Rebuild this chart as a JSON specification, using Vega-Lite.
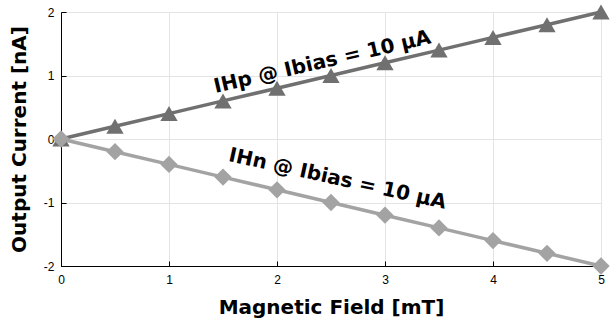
{
  "$schema": "https://vega.github.io/schema/vega-lite/v6.json",
  "autosize": "none",
  "width": 540,
  "height": 254,
  "padding": {"left": 61, "top": 12, "right": 9, "bottom": 62},
  "background": "white",
  "config": {
    "view": {"stroke": "black", "strokeWidth": 1},
    "axis": {
      "labelFont": "Liberation Sans",
      "labelFontSize": 12,
      "labelColor": "black",
      "titleFont": "DejaVu Sans",
      "titleFontWeight": "bold",
      "titleFontSize": 20,
      "titleColor": "black",
      "domainColor": "black",
      "tickColor": "black",
      "tickWidth": 1,
      "gridColor": "#e4e4e4",
      "tickSize": -5
    }
  },
  "datasets": {
    "curves": [
      {"field": 0, "current": 0, "series": "IHp"},
      {"field": 0.5, "current": 0.2, "series": "IHp"},
      {"field": 1, "current": 0.4, "series": "IHp"},
      {"field": 1.5, "current": 0.6, "series": "IHp"},
      {"field": 2, "current": 0.8, "series": "IHp"},
      {"field": 2.5, "current": 1.0, "series": "IHp"},
      {"field": 3, "current": 1.2, "series": "IHp"},
      {"field": 3.5, "current": 1.4, "series": "IHp"},
      {"field": 4, "current": 1.6, "series": "IHp"},
      {"field": 4.5, "current": 1.8, "series": "IHp"},
      {"field": 5, "current": 2.0, "series": "IHp"},
      {"field": 0, "current": 0, "series": "IHn"},
      {"field": 0.5, "current": -0.2, "series": "IHn"},
      {"field": 1, "current": -0.4, "series": "IHn"},
      {"field": 1.5, "current": -0.6, "series": "IHn"},
      {"field": 2, "current": -0.8, "series": "IHn"},
      {"field": 2.5, "current": -1.0, "series": "IHn"},
      {"field": 3, "current": -1.2, "series": "IHn"},
      {"field": 3.5, "current": -1.4, "series": "IHn"},
      {"field": 4, "current": -1.6, "series": "IHn"},
      {"field": 4.5, "current": -1.8, "series": "IHn"},
      {"field": 5, "current": -2.0, "series": "IHn"}
    ]
  },
  "layer": [
    {
      "data": {"name": "curves"},
      "mark": {"type": "line", "strokeWidth": 3.5},
      "encoding": {
        "x": {"field": "field", "type": "quantitative", "scale": {"domain": [0, 5], "nice": false},
              "axis": {"title": "Magnetic Field [mT]", "values": [0, 1, 2, 3, 4, 5], "labelExpr": "'' + datum.value", "labelPadding": 13, "titlePadding": 12, "labelFlush": false}},
        "y": {"field": "current", "type": "quantitative", "scale": {"domain": [-2, 2], "nice": false},
              "axis": {"title": "Output Current [nA]", "values": [-2, -1.5, -1, -0.5, 0, 0.5, 1, 1.5, 2],
                       "labelExpr": "datum.value % 1 === 0 ? '' + datum.value : ''", "labelPadding": 12, "titlePadding": 14, "labelFlush": false}},
        "color": {"field": "series", "type": "nominal", "scale": {"domain": ["IHp", "IHn"], "range": ["#707070", "#a3a3a3"]}, "legend": null}
      }
    },
    {
      "data": {"name": "curves"},
      "mark": {"type": "point", "filled": true, "opacity": 1, "size": 300},
      "encoding": {
        "x": {"field": "field", "type": "quantitative"},
        "y": {"field": "current", "type": "quantitative"},
        "color": {"field": "series", "type": "nominal", "legend": null},
        "shape": {"field": "series", "type": "nominal", "scale": {"domain": ["IHp", "IHn"], "range": ["triangle-up", "diamond"]}, "legend": null}
      }
    },
    {
      "data": {"values": [{"field": 2.42, "current": 1.21, "label": "IHp @ Ibias = 10 µA"}]},
      "mark": {"type": "text", "angle": -13, "font": "DejaVu Sans", "fontWeight": "bold", "fontSize": 20, "color": "black", "align": "center", "baseline": "middle"},
      "encoding": {
        "x": {"field": "field", "type": "quantitative"},
        "y": {"field": "current", "type": "quantitative"},
        "text": {"field": "label"}
      }
    },
    {
      "data": {"values": [{"field": 2.56, "current": -0.63, "label": "IHn @ Ibias = 10 µA"}]},
      "mark": {"type": "text", "angle": 12.5, "font": "DejaVu Sans", "fontWeight": "bold", "fontSize": 20, "color": "black", "align": "center", "baseline": "middle"},
      "encoding": {
        "x": {"field": "field", "type": "quantitative"},
        "y": {"field": "current", "type": "quantitative"},
        "text": {"field": "label"}
      }
    }
  ]
}
